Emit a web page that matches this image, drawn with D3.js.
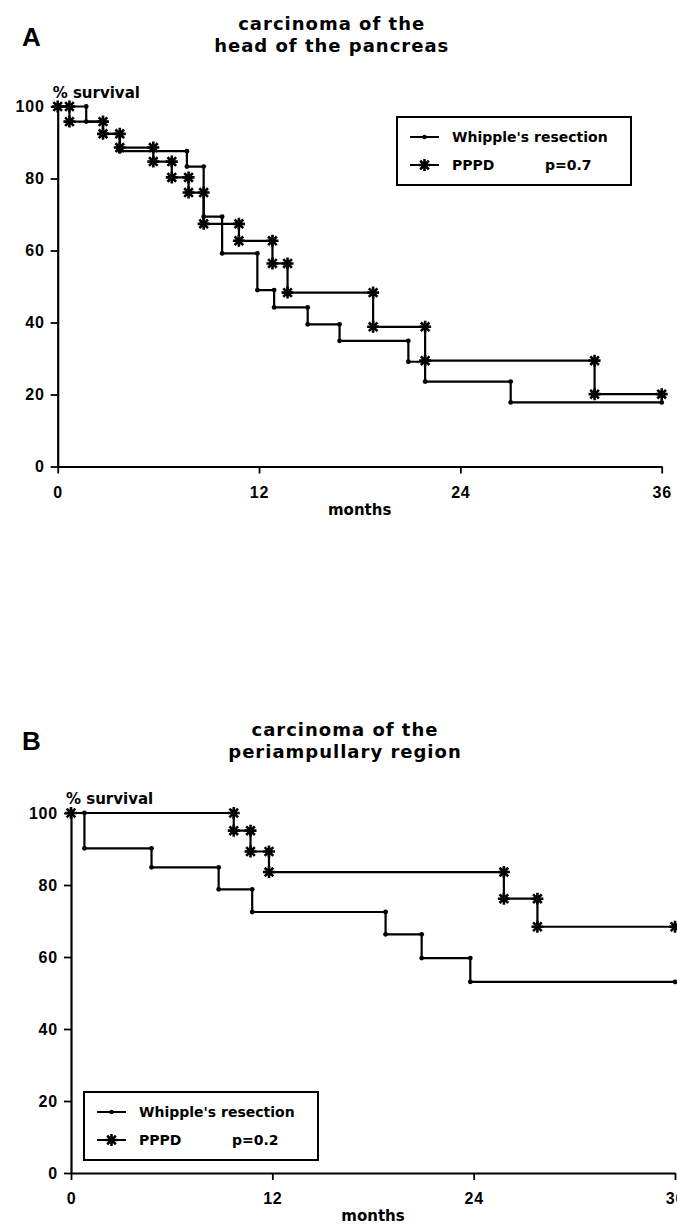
<!doctype html>
<html>
<head>
<meta charset="utf-8">
<script src="https://d3js.org/d3.v7.min.js"></script>
<style>
  body { margin: 0; background: #fff; }
  svg { display: block; }
</style>
</head>
<body>
<svg id="chart" width="677" height="1226"></svg>
<script>
// shared tick labels
var monthTicks = [0, 12, 24, 36];
var survivalTicks = [0, 20, 40, 60, 80, 100];

// A - carcinoma of the head of the pancreas (event month -> % survival after the step)
var whippleA_months = [1.7, 2.7, 3.7, 7.7, 8.7, 9.8, 11.9, 12.9, 14.9, 16.8, 20.9, 21.9, 27.0];
var whippleA_surv   = [95.8, 92.4, 87.6, 83.3, 69.4, 59.2, 49.0, 44.2, 39.5, 34.9, 29.1, 23.6, 17.8];
var pppdA_months    = [0.7, 2.7, 3.7, 5.7, 6.8, 7.8, 8.7, 10.8, 12.8, 13.7, 18.8, 21.9, 32.0];
var pppdA_surv      = [95.8, 92.4, 88.6, 84.7, 80.3, 76.1, 67.4, 62.7, 56.4, 48.3, 38.8, 29.4, 20.1];

// B - carcinoma of the periampullary region
var whippleB_months = [0.8, 4.8, 8.8, 10.8, 18.75, 20.9, 23.8];
var whippleB_surv   = [90.2, 84.9, 78.8, 72.5, 66.3, 59.7, 53.1];
var pppdB_months    = [9.7, 10.7, 11.8, 25.8, 27.8];
var pppdB_surv      = [95.1, 89.3, 83.6, 76.2, 68.4];

var legendNames = ["Whipple's resection", "PPPD"];
var pValues = ["p=0.7", "p=0.2"];

var svg = d3.select("#chart");

// star marker used for PPPD
function star(r) {
    var d = r * 0.72;
    return "M0," + (-r) + "L0," + r +
           "M" + (-r) + ",0L" + r + ",0" +
           "M" + (-d) + "," + (-d) + "L" + d + "," + d +
           "M" + (-d) + "," + d + "L" + d + "," + (-d);
}

// turn event lists into step points (the corners are where markers go)
function stepPoints(months, surv) {
    var pts = [[0, 100]];
    var prev = 100;
    months.forEach(function(m, i) {
        pts.push([m, prev]);
        pts.push([m, surv[i]]);
        prev = surv[i];
    });
    pts.push([36, prev]);
    return pts;
}

function drawPanel(p) {
    var g = svg.append("g");

    var x = d3.scaleLinear().domain([0, 36]).range([p.left, p.left + 604]);
    var y = d3.scaleLinear().domain([0, 100]).range([p.bottom, p.bottom - 360]);

    // panel letter + title
    g.append("text")
        .attr("x", p.letterX).attr("y", p.letterY)
        .attr("font-family", "Liberation Sans, Arial, sans-serif")
        .attr("font-weight", "bold").attr("font-size", 26)
        .text(p.letter);

    g.selectAll(".title").data(p.title).enter().append("text")
        .attr("x", p.left + 302 - 28)
        .attr("y", function(d, i) { return p.titleY + i * 22; })
        .attr("text-anchor", "middle")
        .attr("font-family", "DejaVu Sans, sans-serif")
        .attr("font-weight", "bold").attr("font-size", 18)
        .attr("letter-spacing", 1)
        .text(function(d) { return d; });

    // axes
    var yAxis = g.append("g")
        .attr("transform", "translate(" + p.left + ",0)")
        .call(d3.axisLeft(y).tickValues(survivalTicks).tickSize(7).tickSizeOuter(0).tickPadding(6));
    var xAxis = g.append("g")
        .attr("transform", "translate(0," + p.bottom + ")")
        .call(d3.axisBottom(x).tickValues(monthTicks).tickSize(7).tickSizeOuter(0).tickPadding(13));

    [xAxis, yAxis].forEach(function(a) {
        a.select(".domain").attr("stroke", "#000").attr("stroke-width", 2.2);
        a.selectAll(".tick line").attr("stroke", "#000").attr("stroke-width", 1.8);
        a.selectAll(".tick text")
            .attr("fill", "#000")
            .attr("font-family", "Liberation Sans, Arial, sans-serif")
            .attr("font-weight", "bold").attr("font-size", 16)
            .attr("letter-spacing", 0.8);
    });

    g.append("text")
        .attr("x", p.left - 5).attr("y", y(100) - 9)
        .attr("font-family", "DejaVu Sans, sans-serif")
        .attr("font-weight", "bold").attr("font-size", 15)
        .text("% survival");

    g.append("text")
        .attr("x", x(18)).attr("y", p.bottom + 48)
        .attr("text-anchor", "middle")
        .attr("font-family", "DejaVu Sans, sans-serif")
        .attr("font-weight", "bold").attr("font-size", 15)
        .text("months");

    // curves
    var line = d3.line().x(function(d) { return x(d[0]); }).y(function(d) { return y(d[1]); });

    var wPts = stepPoints(p.whipple[0], p.whipple[1]);
    var sPts = stepPoints(p.pppd[0], p.pppd[1]);

    g.append("path").datum(wPts)
        .attr("d", line).attr("fill", "none")
        .attr("stroke", "#000").attr("stroke-width", 2.2);
    g.append("path").datum(sPts)
        .attr("d", line).attr("fill", "none")
        .attr("stroke", "#000").attr("stroke-width", 2.2);

    g.selectAll(".dot").data(wPts.slice(1)).enter().append("circle")
        .attr("cx", function(d) { return x(d[0]); })
        .attr("cy", function(d) { return y(d[1]); })
        .attr("r", 2.4).attr("fill", "#000");

    g.selectAll(".star").data(sPts).enter().append("path")
        .attr("transform", function(d) { return "translate(" + x(d[0]) + "," + y(d[1]) + ")"; })
        .attr("d", star(6))
        .attr("stroke", "#000").attr("stroke-width", 2.6).attr("fill", "none");

    // legend
    var lg = g.append("g").attr("transform", "translate(" + p.legX + "," + p.legY + ")");
    lg.append("rect")
        .attr("width", 234).attr("height", 68)
        .attr("fill", "none").attr("stroke", "#000").attr("stroke-width", 2);
    var rows = lg.selectAll(".row").data(legendNames).enter().append("g")
        .attr("transform", function(d, i) { return "translate(0," + (20 + i * 28) + ")"; });
    rows.append("line")
        .attr("x1", 13).attr("x2", 42)
        .attr("stroke", "#000").attr("stroke-width", 2);
    rows.append("text")
        .attr("x", 55).attr("dy", "0.36em")
        .attr("font-family", "DejaVu Sans, sans-serif")
        .attr("font-weight", "bold").attr("font-size", 14)
        .text(function(d) { return d; });
    rows.filter(function(d, i) { return i === 0; }).append("circle")
        .attr("cx", 27.5).attr("r", 2.2).attr("fill", "#000");
    rows.filter(function(d, i) { return i === 1; }).append("path")
        .attr("transform", "translate(27.5,0)")
        .attr("d", star(6))
        .attr("stroke", "#000").attr("stroke-width", 2.6);
    rows.filter(function(d, i) { return i === 1; }).append("text")
        .attr("x", 148).attr("dy", "0.36em")
        .attr("font-family", "DejaVu Sans, sans-serif")
        .attr("font-weight", "bold").attr("font-size", 14)
        .text(p.pValue);
}

drawPanel({
    letter: "A", letterX: 22, letterY: 46,
    title: ["carcinoma of the", "head of the pancreas"], titleY: 30,
    left: 57.7, bottom: 466.5,
    whipple: [whippleA_months, whippleA_surv],
    pppd: [pppdA_months, pppdA_surv],
    legX: 397, legY: 117, pValue: pValues[0]
});

drawPanel({
    letter: "B", letterX: 22, letterY: 750,
    title: ["carcinoma of the", "periampullary region"], titleY: 736,
    left: 71, bottom: 1173,
    whipple: [whippleB_months, whippleB_surv],
    pppd: [pppdB_months, pppdB_surv],
    legX: 84, legY: 1092, pValue: pValues[1]
});
</script>
</body>
</html>
